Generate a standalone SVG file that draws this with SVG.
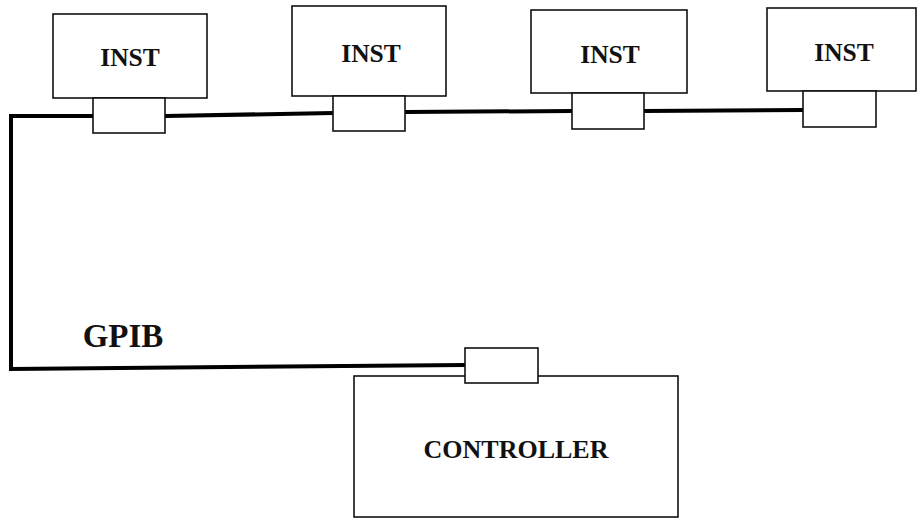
<svg xmlns="http://www.w3.org/2000/svg" width="917" height="519" viewBox="0 0 917 519">
<style>
.box{fill:#fff;stroke:#111;stroke-width:1.6}
.bus{fill:none;stroke:#000;stroke-width:4;stroke-linejoin:miter}
.lbl{font-family:"Liberation Serif","Times New Roman",serif;font-weight:bold;fill:#111;text-anchor:middle}
</style>
<rect width="917" height="519" fill="#fff"/>
<g id="connectors">
<path class="bus" d="M465,365 L11,369 L11,116 L93,116"/>
<path class="bus" d="M165,116 L333,113"/>
<path class="bus" d="M405,112 L572,111"/>
<path class="bus" d="M644,111 L803,110"/>
</g>
<g id="inst1">
<rect class="box" x="53" y="14" width="154" height="84"/>
<rect class="box" x="93" y="98" width="72" height="35"/>
<text class="lbl" x="130" y="66" font-size="25.5">INST</text>
</g>
<g id="inst2">
<rect class="box" x="292" y="6" width="154" height="90"/>
<rect class="box" x="333" y="96" width="72" height="35"/>
<text class="lbl" x="371" y="62" font-size="25.5">INST</text>
</g>
<g id="inst3">
<rect class="box" x="531" y="10" width="156" height="83"/>
<rect class="box" x="572" y="93" width="72" height="36"/>
<text class="lbl" x="610" y="63" font-size="25.5">INST</text>
</g>
<g id="inst4">
<rect class="box" x="767" y="8" width="149" height="83"/>
<rect class="box" x="803" y="91" width="73" height="36"/>
<text class="lbl" x="844" y="61" font-size="25.5">INST</text>
</g>
<g id="controller">
<rect class="box" x="354" y="376" width="324" height="141"/>
<rect class="box" x="465" y="348" width="73" height="35"/>
<text class="lbl" x="516" y="458" font-size="26">CONTROLLER</text>
</g>
<g id="gpib-label">
<text class="lbl" x="123" y="347" font-size="33">GPIB</text>
</g>
</svg>
